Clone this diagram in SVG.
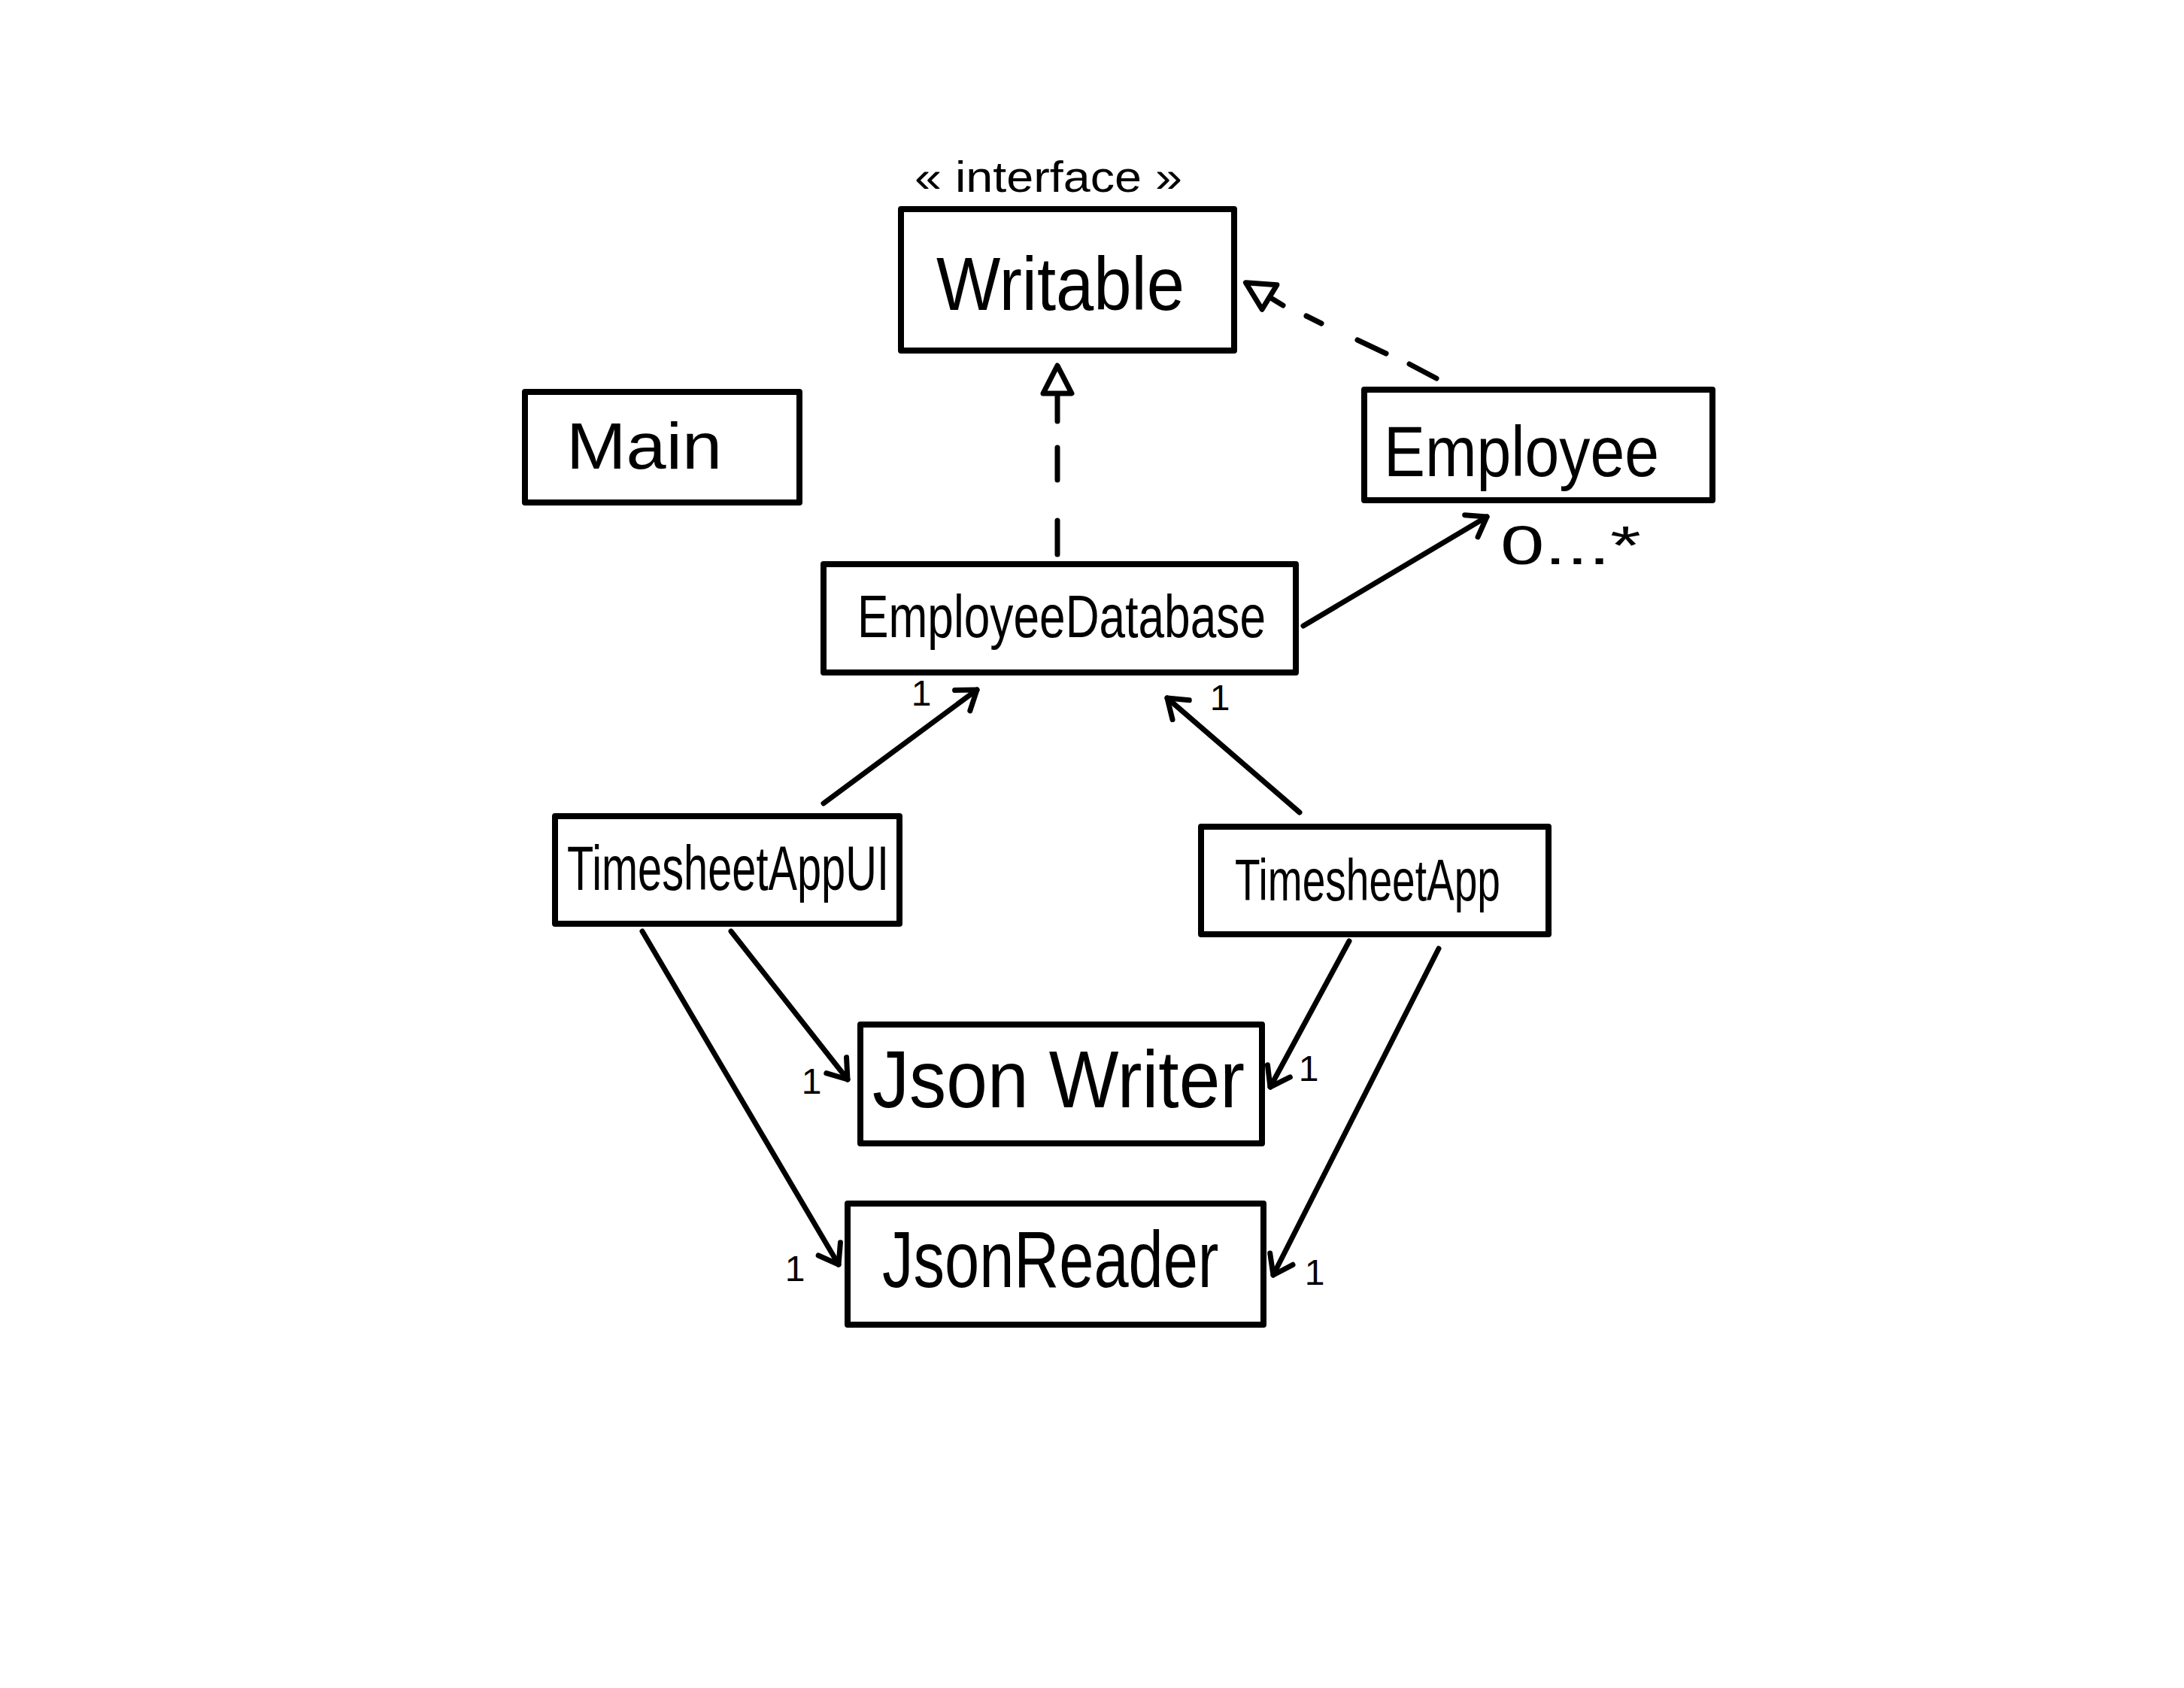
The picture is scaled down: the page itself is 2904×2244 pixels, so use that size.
<svg xmlns="http://www.w3.org/2000/svg" width="2904" height="2244" viewBox="0 0 2904 2244">
<style>
.box{fill:#fff;stroke:#000;stroke-width:8;stroke-linejoin:round}
.lbl{font-family:"Liberation Sans",Arial,sans-serif;fill:#000}
.con{stroke:#000;stroke-width:7;stroke-linecap:round;fill:none}
.mult{font-family:"Liberation Sans",Arial,sans-serif;fill:#000;font-size:48px;text-anchor:middle}
</style>
<defs>
<marker id="open" markerUnits="userSpaceOnUse" markerWidth="60" markerHeight="60" viewBox="-40 -30 60 60" refX="0" refY="0" orient="auto" overflow="visible">
<path d="M-24,-17 L0,0 L-24,17" fill="none" stroke="#000" stroke-width="7" stroke-linecap="round" stroke-linejoin="round"/>
</marker>
<marker id="tri" markerUnits="userSpaceOnUse" markerWidth="60" markerHeight="60" viewBox="-10 -30 60 60" refX="0" refY="0" orient="auto" overflow="visible">
<path d="M0,-19 L37,0 L0,19 Z" fill="#fff" stroke="#000" stroke-width="7" stroke-linejoin="round"/>
</marker>
</defs>
<rect width="2904" height="2244" fill="#fff"/>

<g id="connectors">
<line class="con" x1="1733" y1="832" x2="1977" y2="687" marker-end="url(#open)"/>
<line class="con" x1="1095" y1="1068" x2="1299" y2="917" marker-end="url(#open)"/>
<line class="con" x1="1728" y1="1080" x2="1552" y2="928" marker-end="url(#open)"/>
<line class="con" x1="972" y1="1238" x2="1127" y2="1435" marker-end="url(#open)"/>
<line class="con" x1="854" y1="1238" x2="1115" y2="1681" marker-end="url(#open)"/>
<line class="con" x1="1794" y1="1251" x2="1689" y2="1445" marker-end="url(#open)"/>
<line class="con" x1="1913" y1="1261" x2="1693" y2="1695" marker-end="url(#open)"/>
<g id="realize-db">
<line class="con" x1="1406" y1="737" x2="1406" y2="692"/>
<line class="con" x1="1406" y1="638" x2="1406" y2="595"/>
<line class="con" x1="1406" y1="560" x2="1406" y2="523" marker-end="url(#tri)"/>
</g>
<g id="realize-emp">
<line class="con" x1="1910" y1="503" x2="1874" y2="484"/>
<line class="con" x1="1843" y1="470" x2="1805" y2="452"/>
<line class="con" x1="1757" y1="430" x2="1737" y2="420"/>
<line class="con" x1="1706" y1="406" x2="1688" y2="395" marker-end="url(#tri)"/>
</g>
<text class="mult" x="1225" y="938">1</text>
<text class="mult" x="1622" y="944">1</text>
<text class="mult" x="1079" y="1454">1</text>
<text class="mult" x="1740" y="1437">1</text>
<text class="mult" x="1057" y="1703">1</text>
<text class="mult" x="1748" y="1708">1</text>
<text class="lbl" x="1995" y="750" font-size="72" textLength="187" lengthAdjust="spacingAndGlyphs">0...*</text>
</g>

<g id="writable">
<text class="lbl" x="1216" y="255" font-size="58" textLength="356" lengthAdjust="spacingAndGlyphs">« interface »</text>
<rect class="box" x="1198" y="278" width="443" height="188"/>
<text class="lbl" x="1245" y="412" font-size="100" textLength="330" lengthAdjust="spacingAndGlyphs">Writable</text>
</g>
<g id="main">
<rect class="box" x="698" y="521" width="365" height="147"/>
<text class="lbl" x="753" y="623" font-size="88" textLength="207" lengthAdjust="spacingAndGlyphs">Main</text>
</g>
<g id="employee">
<rect class="box" x="1814" y="518" width="463" height="147"/>
<text class="lbl" x="1840" y="633" font-size="95" textLength="366" lengthAdjust="spacingAndGlyphs">Employee</text>
</g>
<g id="employeedatabase">
<rect class="box" x="1095" y="750" width="628" height="144"/>
<text class="lbl" x="1140" y="847" font-size="80" textLength="543" lengthAdjust="spacingAndGlyphs">EmployeeDatabase</text>
</g>
<g id="timesheetappui">
<rect class="box" x="738" y="1085" width="458" height="143"/>
<text class="lbl" x="754" y="1183" font-size="84" textLength="428" lengthAdjust="spacingAndGlyphs">TimesheetAppUI</text>
</g>
<g id="timesheetapp">
<rect class="box" x="1597" y="1099" width="462" height="143"/>
<text class="lbl" x="1642" y="1197" font-size="77" textLength="353" lengthAdjust="spacingAndGlyphs">TimesheetApp</text>
</g>
<g id="jsonwriter">
<rect class="box" x="1144" y="1362" width="534" height="158"/>
<text class="lbl" x="1160" y="1472" font-size="108" textLength="495" lengthAdjust="spacingAndGlyphs">Json Writer</text>
</g>
<g id="jsonreader">
<rect class="box" x="1127" y="1600" width="553" height="161"/>
<text class="lbl" transform="translate(1173,1711) scale(0.783,1)" x="0" y="0" font-size="106">JsonReader</text>
</g>
</svg>
